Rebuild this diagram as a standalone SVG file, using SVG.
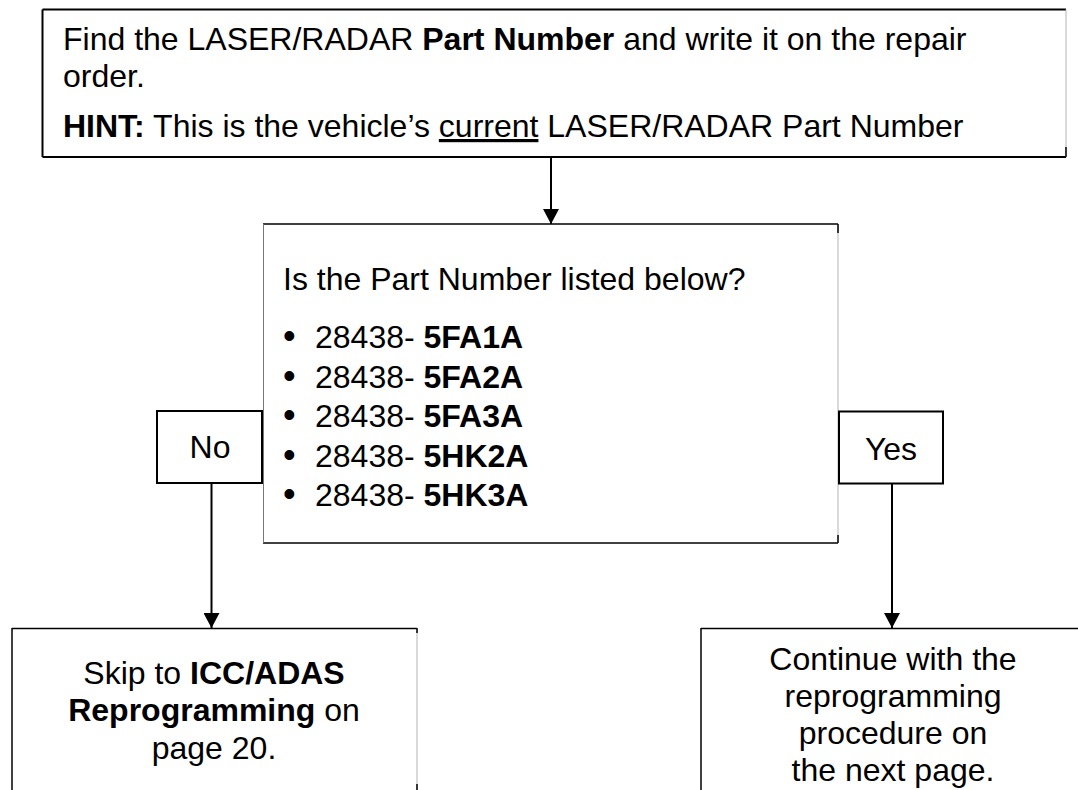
<svg xmlns="http://www.w3.org/2000/svg" width="1078" height="790" viewBox="0 0 1078 790">
<defs>
<style>
text{font-family:"Liberation Sans",Arial,Helvetica,sans-serif;font-size:32px;fill:#000}
.b{font-weight:bold}
.c{text-anchor:middle}
.dot{font-size:36px}
.edge{stroke:#000;stroke-width:2;fill:none}
.thin{stroke:#000;stroke-width:1.5;fill:none}
.gray{stroke:#b4b4b4;stroke-width:1;fill:none}
.conn{stroke:#000;stroke-width:2;fill:none;marker-end:url(#ah)}
</style>
<marker id="ah" markerWidth="16" markerHeight="16" viewBox="0 0 16 16" refX="15" refY="8" orient="auto" markerUnits="userSpaceOnUse">
<path d="M0,0 L15,8 L0,16 Z" fill="#000"/>
</marker>
</defs>
<rect width="1078" height="790" fill="#fff"/>

<g id="node-find">
<line class="edge" x1="42.5" y1="9.5" x2="1066" y2="9.5"/>
<line class="edge" x1="42.5" y1="9.5" x2="42.5" y2="157"/>
<line class="edge" x1="42.5" y1="157" x2="1066" y2="157"/>
<line class="gray" x1="1066" y1="9.5" x2="1066" y2="157"/>
<line class="thin" x1="1066" y1="147" x2="1066" y2="157"/>
<text x="63" y="50">Find the LASER/RADAR <tspan class="b">Part Number</tspan> and write it on the repair</text>
<text x="63" y="87">order.</text>
<text x="63" y="137"><tspan class="b">HINT:</tspan> This is the vehicle’s <tspan style="text-decoration:underline">current</tspan> LASER/RADAR Part Number</text>
</g>

<g id="node-question">
<line class="thin" x1="263" y1="224" x2="838" y2="224"/>
<line class="thin" x1="263" y1="543" x2="838" y2="543"/>
<line stroke="#777" stroke-width="1" x1="263.5" y1="224" x2="263.5" y2="543"/>
<line class="gray" x1="838" y1="224" x2="838" y2="543"/>
<line class="thin" x1="838" y1="224" x2="838" y2="233"/>
<line class="thin" x1="838" y1="535" x2="838" y2="543"/>
<text x="283" y="290">Is the Part Number listed below?</text>
<text x="283" y="348"><tspan class="dot">•</tspan><tspan x="315">28438- </tspan><tspan class="b">5FA1A</tspan></text>
<text x="283" y="387.5"><tspan class="dot">•</tspan><tspan x="315">28438- </tspan><tspan class="b">5FA2A</tspan></text>
<text x="283" y="427"><tspan class="dot">•</tspan><tspan x="315">28438- </tspan><tspan class="b">5FA3A</tspan></text>
<text x="283" y="466.5"><tspan class="dot">•</tspan><tspan x="315">28438- </tspan><tspan class="b">5HK2A</tspan></text>
<text x="283" y="506"><tspan class="dot">•</tspan><tspan x="315">28438- </tspan><tspan class="b">5HK3A</tspan></text>
</g>

<g id="node-no">
<rect class="edge" x="157" y="411" width="105" height="72" fill="#fff" stroke-width="2.5"/>
<text class="c" x="210" y="458">No</text>
</g>

<g id="node-yes">
<rect class="edge" x="839" y="411.5" width="104" height="72" fill="#fff" stroke-width="2.5"/>
<text class="c" x="891" y="460">Yes</text>
</g>

<g id="node-skip">
<line class="thin" x1="12" y1="628.5" x2="417" y2="628.5"/>
<line class="thin" x1="12" y1="628" x2="12" y2="790"/>
<line class="gray" x1="417" y1="628" x2="417" y2="790"/>
<line class="thin" x1="417" y1="628" x2="417" y2="633"/>
<line class="thin" x1="417" y1="784" x2="417" y2="790"/>
<text class="c" x="214" y="684">Skip to <tspan class="b">ICC/ADAS</tspan></text>
<text class="c" x="214" y="721"><tspan class="b">Reprogramming</tspan> on</text>
<text class="c" x="214" y="759">page 20.</text>
</g>

<g id="node-continue">
<line class="thin" x1="701" y1="628.5" x2="1078" y2="628.5"/>
<line class="thin" x1="701" y1="628" x2="701" y2="790"/>
<text class="c" x="893" y="670">Continue with the</text>
<text class="c" x="893" y="707">reprogramming</text>
<text class="c" x="893" y="744">procedure on</text>
<text class="c" x="893" y="781">the next page.</text>
</g>

<g id="connectors">
<line class="conn" x1="551" y1="157" x2="551" y2="224"/>
<line class="conn" x1="211.5" y1="484" x2="211.5" y2="628"/>
<line class="conn" x1="892" y1="484" x2="892" y2="628"/>
</g>
</svg>
